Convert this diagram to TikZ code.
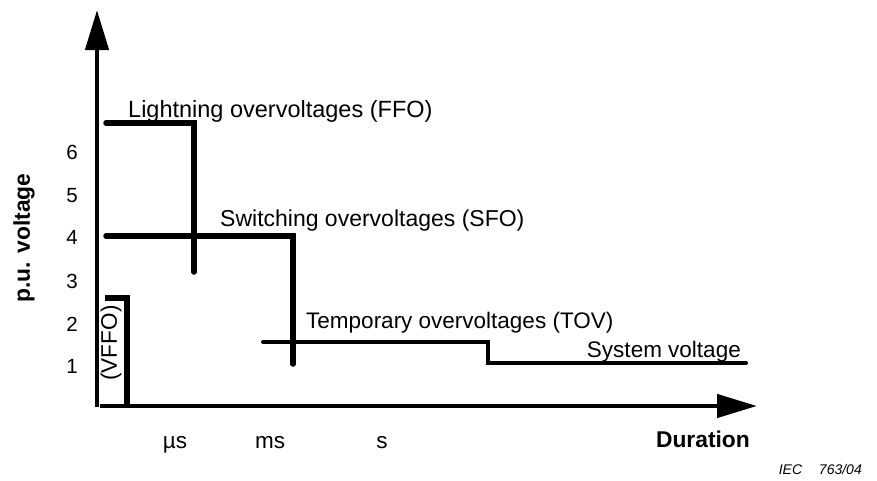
\documentclass[tikz,border=0pt]{standalone}
\usepackage{fontspec}
\setmainfont{Liberation Sans}
\usetikzlibrary{arrows.meta}
\begin{document}
\begin{tikzpicture}[x=1pt,y=-1pt,
  curve/.style={line width=5.5pt,line cap=round,line join=miter},
  axis/.style={line width=4.5pt,-{Triangle[length=40pt,width=23pt]}},
  lbl/.style={font=\fontsize{22.5}{26}\selectfont,inner sep=0pt},
  tick/.style={font=\fontsize{20.5}{24}\selectfont,inner sep=0pt,anchor=base},
  bold lbl/.style={font=\fontsize{22.8}{26}\selectfont\bfseries,inner sep=0pt},
  ]
\useasboundingbox (0,0) rectangle (877,480);
% axes
\coordinate (O) at (97,407);
\coordinate (ytip) at (97,10);
\coordinate (xo) at (100,406);
\coordinate (xtip) at (757,406);
\draw[axis] (O) -- (ytip);
\draw[axis] (xo) -- (xtip);
% tick labels
\foreach \v/\yy in {6/159,5/202,4/244,3/288,2/331,1/373}
  \node[tick] (t\v) at (72,\yy) {\v};
% FFO
\coordinate (f1) at (106,123);
\coordinate (f2) at (194,123);
\coordinate (f3) at (194,272);
\draw[curve] (f1) -- (f2) -- (f3);
% SFO
\coordinate (s1) at (106,236);
\coordinate (s2) at (293,236);
\coordinate (s3) at (293,364);
\draw[curve] (s1) -- (s2) -- (s3);
% TOV and system voltage
\coordinate (tv1) at (263,342);
\coordinate (tv2) at (488,342);
\coordinate (tv3) at (488,363);
\coordinate (sv) at (746,363);
\draw[line width=4pt,line cap=round,line join=miter] (tv1) -- (tv2) -- (tv3) -- (sv);
% VFFO
\coordinate (v1) at (105,298);
\coordinate (v2) at (127,298);
\coordinate (v3) at (127,405);
\draw[curve,line cap=butt] (v1) -- (v2) -- (v3);
% labels
\node[lbl,font=\fontsize{23.5}{27}\selectfont,anchor=base west] (lffo) at (128,117) {Lightning overvoltages (FFO)};
\node[lbl,font=\fontsize{23}{27}\selectfont,anchor=base west] (lsfo) at (220,226) {Switching overvoltages (SFO)};
\node[lbl,anchor=base west] (ltov) at (306,328) {Temporary overvoltages (TOV)};
\node[lbl,anchor=base east] (lsys) at (741,357) {System voltage};
\node[lbl,rotate=90] (lvffo) at (111,343) {(VFFO)};
\node[bold lbl,rotate=90] (lpu) at (24,238) {p.u. voltage};
\node[lbl,anchor=base] (lus) at (175,448) {µs};
\node[lbl,anchor=base] (lms) at (270,448) {ms};
\node[lbl,anchor=base] (ls) at (382,448) {s};
\node[bold lbl,anchor=base east] (ldur) at (750,447) {Duration};
\node[font=\fontsize{14}{16}\selectfont\itshape,inner sep=0pt,anchor=base east] (liec) at (862,474) {IEC\hspace{1.2em}763/04};
\end{tikzpicture}
\end{document}
